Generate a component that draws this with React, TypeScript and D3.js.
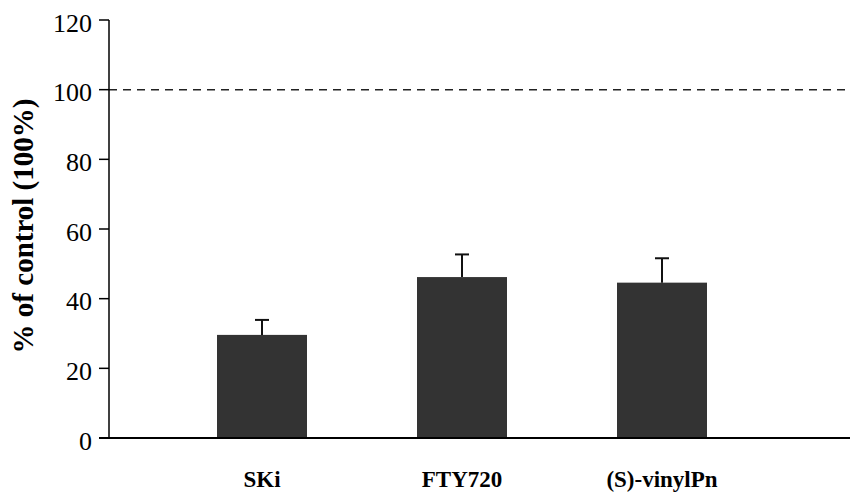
import React from "react";
import * as d3 from "d3";

const categories = ["SKi", "FTY720", "(S)-vinylPn"];
const means = [29.6, 46.2, 44.6];
const errors = [4.3, 6.5, 7.0];
const yTicks = [0, 20, 40, 60, 80, 100, 120];
const referenceLine = 100;
const yLabel = "% of control (100%)";

const W = 851;
const H = 493;

export default function App() {
  const y = d3.scaleLinear().domain([0, 120]).range([438, 20]);
  const x = d3
    .scaleBand<string>()
    .domain(categories)
    .range([162, 762])
    .paddingInner(0.55)
    .paddingOuter(0.275);
  const axisX = 109;
  const axisRight = 850;
  const font = "Liberation Serif, Times New Roman, Times, serif";

  return (
    <svg
      width={W}
      height={H}
      style={{ position: "absolute", left: 0, top: 0, background: "#fff" }}
    >
      {categories.map((c, i) => (
        <rect
          key={c}
          x={x(c)!}
          y={y(means[i])}
          width={x.bandwidth()}
          height={y(0) - y(means[i])}
          fill="#333333"
        />
      ))}
      {categories.map((c, i) => {
        const cx = x(c)! + x.bandwidth() / 2;
        return (
          <g key={c + "-err"} stroke="#111" strokeWidth={2}>
            <line x1={cx} x2={cx} y1={y(means[i])} y2={y(means[i] + errors[i])} />
            <line x1={cx - 7} x2={cx + 7} y1={y(means[i] + errors[i])} y2={y(means[i] + errors[i])} />
          </g>
        );
      })}
      <line
        x1={axisX}
        x2={axisRight}
        y1={y(referenceLine)}
        y2={y(referenceLine)}
        stroke="#222"
        strokeWidth={1.5}
        strokeDasharray="8,6"
      />
      <line x1={axisX} x2={axisX} y1={y(120)} y2={y(0)} stroke="#000" strokeWidth={1.5} />
      {yTicks.map((t) => (
        <g key={t}>
          <line x1={axisX - 10} x2={axisX} y1={y(t)} y2={y(t)} stroke="#000" strokeWidth={1.5} />
          <text
            x={92}
            y={y(t) + 11.5}
            textAnchor="end"
            style={{ fontFamily: font, fontSize: "26px" }}
            fill="#000"
          >
            {t}
          </text>
        </g>
      ))}
      <line x1={axisX - 10} x2={axisRight} y1={y(0)} y2={y(0)} stroke="#000" strokeWidth={2} />
      {categories.map((c) => (
        <text
          key={c + "-lbl"}
          x={x(c)! + x.bandwidth() / 2}
          y={487}
          textAnchor="middle"
          style={{ fontFamily: font, fontSize: "23px", fontWeight: "bold" }}
          fill="#000"
        >
          {c}
        </text>
      ))}
      <text
        transform={`translate(33, 226) rotate(-90)`}
        textAnchor="middle"
        style={{ fontFamily: font, fontSize: "29px", fontWeight: "bold" }}
        fill="#000"
      >
        {yLabel}
      </text>
    </svg>
  );
}
